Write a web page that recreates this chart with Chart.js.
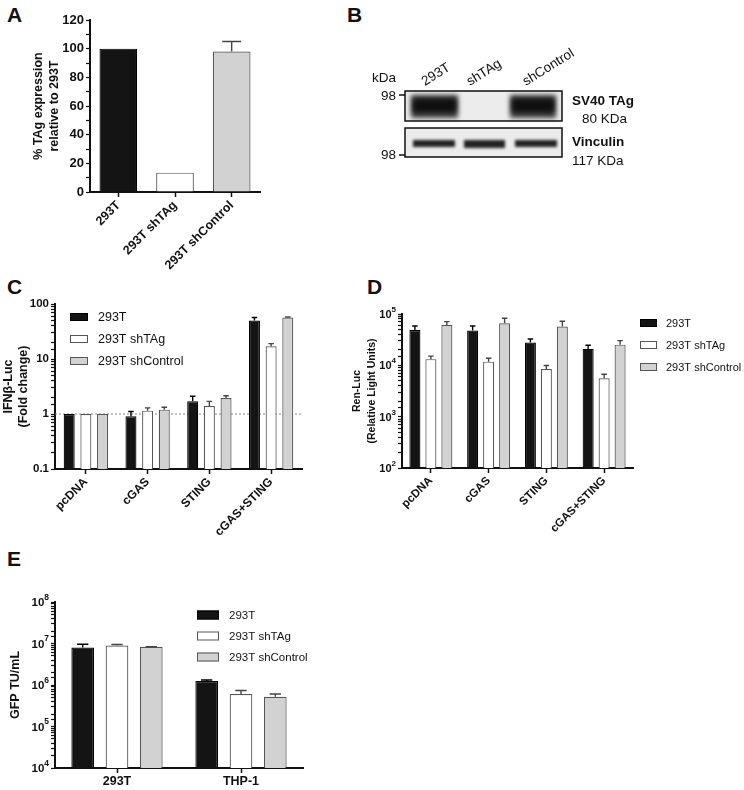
<!DOCTYPE html>
<html>
<head>
<meta charset="utf-8">
<script src="https://cdn.jsdelivr.net/npm/chart.js@4.4.1/dist/chart.umd.min.js"></script>
<style>
  body { margin: 0; background: #fff; width: 744px; height: 790px; position: relative; overflow: hidden;
         font-family: "Liberation Sans", Arial, sans-serif; color: #111; }
  .panel { position: absolute; }
  .letter { position: absolute; font-weight: bold; font-size: 21px; line-height: 1; }
</style>
</head>
<body>
<div class="letter" style="left:7px;top:4px">A</div>
<div class="letter" style="left:347px;top:4px">B</div>
<div class="letter" style="left:7px;top:276px">C</div>
<div class="letter" style="left:367px;top:276px">D</div>
<div class="letter" style="left:7px;top:548px">E</div>

<div class="panel" style="left:0;top:0;width:285px;height:278px"><canvas id="chartA"></canvas></div>
<div class="panel" style="left:330px;top:0;width:330px;height:220px"><canvas id="blot" width="330" height="220"></canvas></div>
<div class="panel" style="left:0;top:280px;width:330px;height:260px"><canvas id="chartC"></canvas></div>
<div class="panel" style="left:350px;top:280px;width:394px;height:260px"><canvas id="chartD"></canvas></div>
<div class="panel" style="left:0;top:580px;width:330px;height:210px"><canvas id="chartE"></canvas></div>

<script>
// ---- data ----
const seriesNames = ['293T', '293T shTAg', '293T shControl'];

// A: TAg expression
const linesA = ['293T', '293T shTAg', '293T shControl'];
const tagExpression = [100, 13.5, 98];
const tagErrors = [0, 0, 7];

// C: IFNb-Luc fold change
const constructs = ['pcDNA', 'cGAS', 'STING', 'cGAS+STING'];
const ifn293T = [1, 0.91, 1.7, 50];
const ifnShTAg = [1, 1.15, 1.4, 17];
const ifnShControl = [1, 1.2, 1.95, 57];
const ifnErr293T = [0, 0.2, 0.4, 7];
const ifnErrShTAg = [0, 0.14, 0.3, 2];
const ifnErrShControl = [0, 0.13, 0.2, 1];

// D: Ren-Luc
const ren293T = [48900, 47500, 27700, 20900];
const renShTAg = [13200, 11800, 8500, 5600];
const renShControl = [61000, 65800, 56800, 25300];
const renErr293T = [9600, 11000, 4900, 3700];
const renErrShTAg = [1900, 1900, 1400, 1100];
const renErrShControl = [10000, 16600, 15200, 5000];

// E: GFP titre
const cellLines = ['293T', 'THP-1'];
const gfp293T = [8.0e6, 1.25e6];
const gfpShTAg = [8.96e6, 6.05e5];
const gfpShControl = [8.3e6, 5.2e5];
const gfpErr293T = [1.6e6, 0.07e6];
const gfpErrShTAg = [0.5e6, 1.35e5];
const gfpErrShControl = [0.1e6, 0.85e5];

// blot labels
const blotLanes = ['293T', 'shTAg', 'shControl'];

// ---- styles ----
const FONT = "'Liberation Sans', Arial, sans-serif";
Chart.defaults.font.family = FONT;
Chart.defaults.color = '#111';
const fills = ['#141414', '#ffffff', '#d2d2d2'];
const borders = ['#000000', '#555555', '#555555'];

function isDecade(v) {
  const l = Math.log10(v);
  return Math.abs(l - Math.round(l)) < 1e-6;
}

// upper error bars
const errorBars = {
  id: 'errorBars',
  afterDatasetsDraw(chart) {
    const ctx = chart.ctx;
    const y = chart.scales.y;
    chart.data.datasets.forEach((ds, i) => {
      if (!ds.errors) return;
      chart.getDatasetMeta(i).data.forEach((bar, j) => {
        const e = ds.errors[j];
        if (!e) return;
        const top = y.getPixelForValue(ds.data[j] + e);
        const half = bar.width / 4;
        ctx.save();
        ctx.strokeStyle = ds.borderColor === '#000000' ? '#000' : '#444';
        ctx.lineWidth = 1.4;
        ctx.beginPath();
        ctx.moveTo(bar.x, bar.y);
        ctx.lineTo(bar.x, top);
        ctx.moveTo(bar.x - half, top);
        ctx.lineTo(bar.x + half, top);
        ctx.stroke();
        ctx.restore();
      });
    });
  }
};

// dotted line at a value
const refLine = {
  id: 'refLine',
  beforeDatasetsDraw(chart, args, opts) {
    if (opts.value === undefined) return;
    const ctx = chart.ctx;
    const yy = chart.scales.y.getPixelForValue(opts.value);
    ctx.save();
    ctx.strokeStyle = '#888';
    ctx.lineWidth = 1;
    ctx.setLineDash([2, 2]);
    ctx.beginPath();
    ctx.moveTo(chart.chartArea.left, yy);
    ctx.lineTo(chart.chartArea.right, yy);
    ctx.stroke();
    ctx.restore();
  }
};

// 10^n labels with a raised exponent
const powTicks = {
  id: 'powTicks',
  afterDraw(chart, args, opts) {
    if (!opts.size) return;
    const y = chart.scales.y;
    const ctx = chart.ctx;
    ctx.save();
    ctx.fillStyle = '#111';
    ctx.textBaseline = 'middle';
    ctx.textAlign = 'right';
    y.ticks.forEach(t => {
      if (!isDecade(t.value)) return;
      const yy = y.getPixelForValue(t.value);
      const exp = String(Math.round(Math.log10(t.value)));
      const right = y.right - opts.pad;
      ctx.font = 'bold ' + opts.expSize + 'px ' + FONT;
      const ew = ctx.measureText(exp).width;
      ctx.fillText(exp, right, yy - opts.size * 0.38);
      ctx.font = 'bold ' + opts.size + 'px ' + FONT;
      ctx.fillText('10', right - ew, yy + 1);
    });
    ctx.restore();
  }
};

// legend drawn at a fixed spot
const boxLegend = {
  id: 'boxLegend',
  afterDraw(chart, args, opts) {
    if (opts.x === undefined) return;
    const ctx = chart.ctx;
    ctx.save();
    ctx.font = opts.size + 'px ' + FONT;
    ctx.textBaseline = 'middle';
    chart.data.datasets.forEach((ds, i) => {
      const yy = opts.y + i * opts.gap;
      ctx.fillStyle = ds.backgroundColor;
      ctx.fillRect(opts.x, yy - opts.bh / 2, opts.bw, opts.bh);
      ctx.strokeStyle = ds.borderColor;
      ctx.lineWidth = 1;
      ctx.strokeRect(opts.x + 0.5, yy - opts.bh / 2 + 0.5, opts.bw - 1, opts.bh - 1);
      ctx.fillStyle = '#111';
      ctx.fillText(ds.label, opts.x + opts.bw + (opts.tgap || 10), yy + 1);
    });
    ctx.restore();
  }
};

function makeDatasets(values, errors, catPct, barPct) {
  return values.map((v, i) => ({
    label: seriesNames[i],
    data: v,
    errors: errors[i],
    backgroundColor: fills[i],
    borderColor: borders[i],
    borderWidth: 1.2,
    categoryPercentage: catPct,
    barPercentage: barPct
  }));
}

function xAxis(height, rotate, size) {
  return {
    grid: { drawOnChartArea: false, offset: false, tickLength: 5, tickColor: '#111', tickWidth: 1.5 },
    border: { color: '#111', width: 2 },
    ticks: { font: { size: size, weight: 'bold' }, color: '#111', maxRotation: rotate, minRotation: rotate, autoSkip: false, padding: 1 },
    afterFit(s) { s.height = height; }
  };
}

function yAxis(width, extra) {
  return Object.assign({
    grid: { drawOnChartArea: false, tickLength: 4, tickColor: '#111', tickWidth: 1.2 },
    border: { color: '#111', width: 2 },
    afterFit(s) { s.width = width; }
  }, extra);
}

const common = {
  responsive: true,
  maintainAspectRatio: false,
  animation: false
};

// ---- A ----
new Chart(document.getElementById('chartA'), {
  type: 'bar',
  data: {
    labels: linesA,
    datasets: [{
      label: 'TAg', data: tagExpression, errors: tagErrors,
      backgroundColor: [fills[0], fills[1], fills[2]],
      borderColor: [borders[0], borders[1], borders[2]],
      borderWidth: 1.2, categoryPercentage: 1, barPercentage: 0.665
    }]
  },
  options: Object.assign({}, common, {
    layout: { padding: { left: 30, top: 20, right: 25, bottom: 0 } },
    plugins: { legend: { display: false }, tooltip: { enabled: false } },
    scales: {
      x: xAxis(86, 45, 12.5),
      y: yAxis(60, {
        min: 0, max: 120,
        ticks: { stepSize: 10, autoSkip: false, font: { size: 13, weight: 'bold' }, color: '#111', padding: 2,
                 callback: v => v % 20 === 0 ? String(v) : '' },
        title: { display: true, text: ['% TAg expression', 'relative to 293T'], font: { size: 12.5, weight: 'bold', lineHeight: 1.3 }, padding: 0 }
      })
    }
  }),
  plugins: [errorBars]
});

// ---- C ----
new Chart(document.getElementById('chartC'), {
  type: 'bar',
  data: {
    labels: constructs,
    datasets: makeDatasets([ifn293T, ifnShTAg, ifnShControl], [ifnErr293T, ifnErrShTAg, ifnErrShControl], 0.81, 0.66)
  },
  options: Object.assign({}, common, {
    layout: { padding: { left: 1, top: 24, right: 28, bottom: 0 } },
    plugins: {
      legend: { display: false }, tooltip: { enabled: false },
      refLine: { value: 1 },
      boxLegend: { x: 70, y: 37, gap: 22, bw: 18, bh: 8, size: 12.5 }
    },
    scales: {
      x: xAxis(71, 45, 12),
      y: yAxis(54, {
        type: 'logarithmic', min: 0.1, max: 100,
        ticks: { autoSkip: false, font: { size: 11.5, weight: 'bold' }, color: '#111', padding: 2,
                 callback: v => isDecade(v) ? String(v) : '' },
        title: { display: true, text: ['IFNβ-Luc', '(Fold change)'], font: { size: 12.5, weight: 'bold', lineHeight: 1.2 }, padding: 0 }
      })
    }
  }),
  plugins: [errorBars, refLine, boxLegend]
});

// ---- D ----
new Chart(document.getElementById('chartD'), {
  type: 'bar',
  data: {
    labels: constructs,
    datasets: makeDatasets([ren293T, renShTAg, renShControl], [renErr293T, renErrShTAg, renErrShControl], 0.83, 0.69)
  },
  options: Object.assign({}, common, {
    layout: { padding: { left: 0, top: 34, right: 111, bottom: 0 } },
    plugins: {
      legend: { display: false }, tooltip: { enabled: false },
      powTicks: { size: 11, expSize: 8, pad: 6 },
      boxLegend: { x: 290, y: 43, gap: 22, bw: 17, bh: 8, size: 11, tgap: 9 }
    },
    scales: {
      x: xAxis(72, 45, 11.5),
      y: yAxis(52, {
        type: 'logarithmic', min: 100, max: 100000,
        ticks: { autoSkip: false, callback: () => '' },
        title: { display: true, text: ['Ren-Luc', '(Relative Light Units)'], font: { size: 10.5, weight: 'bold', lineHeight: 1.4 }, padding: 0 }
      })
    }
  }),
  plugins: [errorBars, powTicks, boxLegend]
});

// ---- E ----
new Chart(document.getElementById('chartE'), {
  type: 'bar',
  data: {
    labels: cellLines,
    datasets: makeDatasets([gfp293T, gfpShTAg, gfpShControl], [gfpErr293T, gfpErrShTAg, gfpErrShControl], 0.83, 0.66)
  },
  options: Object.assign({}, common, {
    layout: { padding: { left: 0, top: 22, right: 27, bottom: 0 } },
    plugins: {
      legend: { display: false }, tooltip: { enabled: false },
      powTicks: { size: 11.5, expSize: 8.5, pad: 6 },
      boxLegend: { x: 197, y: 35, gap: 21, bw: 22, bh: 9, size: 11.5 }
    },
    scales: {
      x: xAxis(22, 0, 12.5),
      y: yAxis(55, {
        type: 'logarithmic', min: 1e4, max: 1e8,
        ticks: { autoSkip: false, callback: () => '' },
        title: { display: true, text: 'GFP TU/mL', font: { size: 12.5, weight: 'bold' }, padding: 8 }
      })
    }
  }),
  plugins: [errorBars, powTicks, boxLegend]
});

// ---- B: western blot sketch ----
(function drawBlot() {
  const c = document.getElementById('blot');
  const ctx = c.getContext('2d');
  ctx.fillStyle = '#ececec';
  ctx.fillRect(75, 91, 157, 30);
  ctx.fillRect(75, 128, 157, 29);

  ctx.save();
  ctx.filter = 'blur(2.5px)';
  // SV40 TAg bands
  ctx.fillStyle = '#3a3a3a';
  ctx.fillRect(81, 95, 47, 23);
  ctx.fillRect(180, 95, 46, 23);
  ctx.fillStyle = '#0e0e0e';
  ctx.fillRect(83, 99, 43, 13);
  ctx.fillRect(182, 99, 42, 13);
  // Vinculin bands
  ctx.filter = 'blur(1.5px)';
  ctx.fillStyle = '#222';
  ctx.fillRect(83, 140, 42, 7);
  ctx.fillRect(134, 140, 41, 8);
  ctx.fillRect(185, 140, 42, 7);
  ctx.restore();

  ctx.strokeStyle = '#111';
  ctx.lineWidth = 1.5;
  ctx.strokeRect(75, 91, 157, 30);
  ctx.strokeRect(75, 128, 157, 29);
  // marker ticks
  ctx.beginPath();
  ctx.moveTo(69, 95); ctx.lineTo(75, 95);
  ctx.moveTo(69, 155); ctx.lineTo(75, 155);
  ctx.stroke();

  ctx.fillStyle = '#111';
  ctx.font = '13.5px ' + FONT;
  ctx.textBaseline = 'middle';
  ctx.textAlign = 'right';
  ctx.fillText('98', 66, 96);
  ctx.fillText('98', 66, 155);
  ctx.textAlign = 'left';
  ctx.fillText('kDa', 42, 78);

  const laneX = [95, 140, 196];
  blotLanes.forEach((t, i) => {
    ctx.save();
    ctx.translate(laneX[i], 86);
    ctx.rotate(-32 * Math.PI / 180);
    ctx.textBaseline = 'alphabetic';
    ctx.fillText(t, 0, 0);
    ctx.restore();
  });

  ctx.font = 'bold 13.5px ' + FONT;
  ctx.fillText('SV40 TAg', 242, 101);
  ctx.fillText('Vinculin', 242, 142);
  ctx.font = '13.5px ' + FONT;
  ctx.fillText('80 KDa', 252, 119);
  ctx.fillText('117 KDa', 242, 161);
})();
</script>
</body>
</html>
